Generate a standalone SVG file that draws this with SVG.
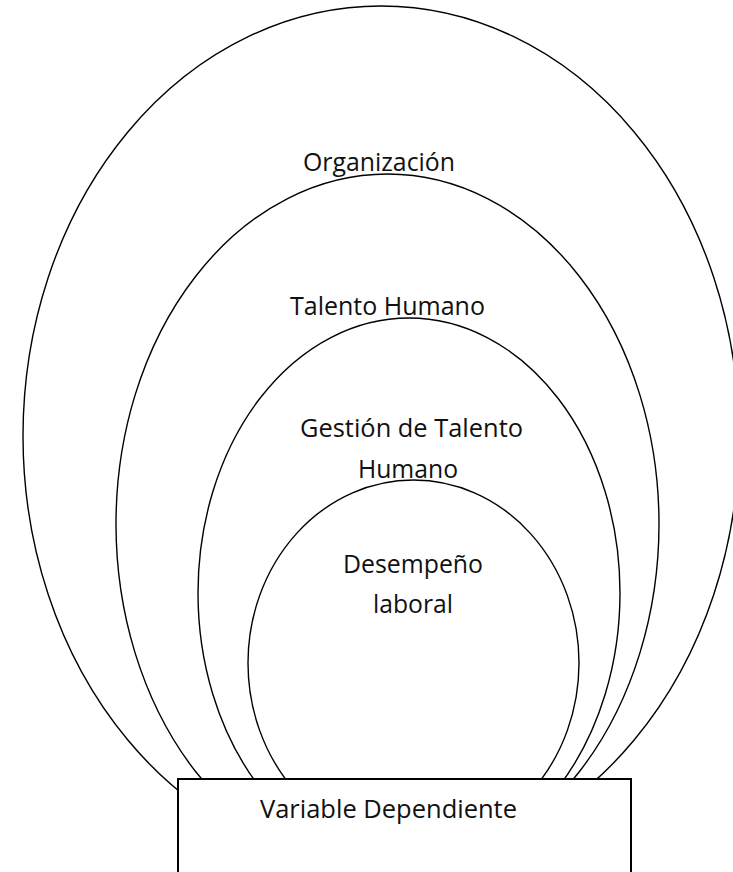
<svg xmlns="http://www.w3.org/2000/svg" width="733" height="872" viewBox="0 0 733 872">
<style>
.ring{fill:none;stroke:#000;stroke-width:1.4}
.lbl{font-family:"Open Sans","Liberation Sans",sans-serif;font-size:25px;fill:#111;text-anchor:middle}
.box{fill:#fff;stroke:#000;stroke-width:2}
</style>
<rect width="733" height="872" fill="#fff"/>
<g id="organizacion">
<ellipse class="ring" cx="381" cy="436" rx="358" ry="430"/>
<text class="lbl" x="379" y="171" textLength="152" lengthAdjust="spacingAndGlyphs">Organización</text>
</g>
<g id="talento-humano">
<ellipse class="ring" cx="387.5" cy="524" rx="271.5" ry="350"/>
<text class="lbl" x="387.5" y="315" textLength="195" lengthAdjust="spacingAndGlyphs">Talento Humano</text>
</g>
<g id="gestion-talento-humano">
<ellipse class="ring" cx="409" cy="593" rx="211" ry="275"/>
<text class="lbl" x="411.5" y="437" textLength="223" lengthAdjust="spacingAndGlyphs">Gestión de Talento</text>
<text class="lbl" x="408" y="478" textLength="100" lengthAdjust="spacingAndGlyphs">Humano</text>
</g>
<g id="desempeno-laboral">
<ellipse class="ring" cx="413.5" cy="663" rx="165.5" ry="183"/>
<text class="lbl" x="413" y="573" textLength="140" lengthAdjust="spacingAndGlyphs">Desempeño</text>
<text class="lbl" x="413" y="613" textLength="80" lengthAdjust="spacingAndGlyphs">laboral</text>
</g>
<g id="variable-dependiente">
<rect class="box" x="178" y="779" width="453" height="110"/>
<text class="lbl" x="388.5" y="818" textLength="257" lengthAdjust="spacingAndGlyphs">Variable Dependiente</text>
</g>
<g id="connectors"></g>
</svg>
